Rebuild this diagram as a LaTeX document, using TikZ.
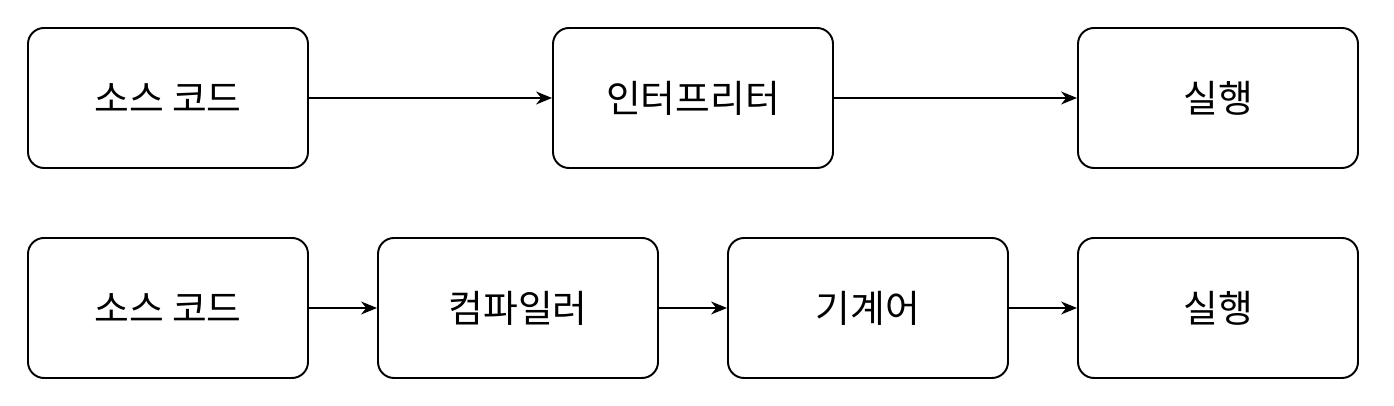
\documentclass[tikz,border=0pt]{standalone}
\usepackage{fontspec}
\setmainfont{Noto Sans CJK KR}
\usepackage{tikz}
\usetikzlibrary{arrows.meta,positioning}

\tikzset{
  stagebox/.style={draw, line width=1.1pt, rounded corners=0.32cm,
    minimum width=5.6cm, minimum height=2.8cm, font=\fontsize{21.5}{25}\selectfont},
  flow/.style={-{Stealth[length=0.32cm,width=0.26cm]}, line width=0.8pt}
}

\begin{document}
\begin{tikzpicture}
      \useasboundingbox (0,0) rectangle (27.88,8.12);
      % interpreter
      \node[stagebox] (srcA) at (3.36,6.16) {소스 코드}; % top left
      \node[stagebox] (interp) at (13.86,6.16) {인터프리터}; % top middle
      \node[stagebox] (runA) at (24.36,6.16) {실행}; % top right
      % compiler
      \node[stagebox] (srcB) at (3.36,1.96) {소스 코드};
      \node[stagebox] (comp) at (10.36,1.96) {컴파일러};
      \node[stagebox] (mach) at (17.36,1.96) {기계어};
      \node[stagebox] (runB) at (24.36,1.96) {실행};
      \draw[flow] (srcA) -- (interp);
      \draw[flow] (interp) -- (runA);
      \draw[flow] (srcB) -- (comp);
      \draw[flow] (comp) -- (mach);
      \draw[flow] (mach) -- (runB);
    \end{tikzpicture}
\end{document}
